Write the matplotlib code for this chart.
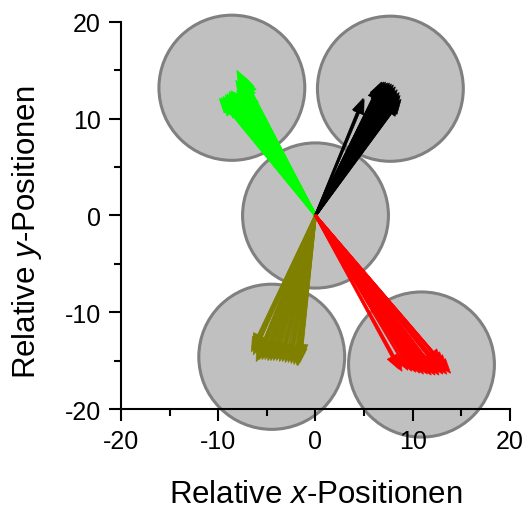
import numpy as np
import matplotlib
matplotlib.use('Agg')
import matplotlib.pyplot as plt
from matplotlib.patches import Circle

plt.rcParams['font.family'] = 'Liberation Sans'
plt.rcParams['mathtext.fontset'] = 'custom'
plt.rcParams['mathtext.rm'] = 'Liberation Sans'
plt.rcParams['mathtext.it'] = 'Liberation Sans:italic'
plt.rcParams['axes.unicode_minus'] = False

# circle centres (relative positions) and radius
circle_x = [0.0, -8.6, 7.7, -4.5, 10.9]
circle_y = [0.0, 13.2, 13.1, -14.6, -15.4]
circle_r = 7.5

# arrow end points per group
green_x = [-8.1, -7.9, -7.7, -7.5, -7.3, -8.0, -7.6, -7.8, -8.2, -7.4,
           -9.9, -9.7, -9.5, -9.3, -9.1, -8.9, -8.7, -8.5, -8.3, -8.1, -7.9, -7.7, -7.5, -7.3, -7.1,
           -9.6, -9.2, -8.8, -8.4, -8.0, -7.6, -7.0, -9.0, -8.6]
green_y = [15.0, 14.8, 14.6, 14.4, 14.1, 14.5, 14.0, 14.2, 14.0, 13.7,
           12.1, 12.2, 12.3, 12.5, 12.6, 12.8, 12.9, 12.8, 12.7, 12.9, 13.0, 12.9, 12.9, 12.8, 12.8,
           11.8, 11.9, 12.2, 12.3, 12.4, 12.5, 12.3, 11.6, 11.9]

black_x = [6.8, 7.0, 7.2, 7.4, 7.6, 7.8, 8.0, 8.2, 8.4, 8.6, 8.7,
           7.0, 7.3, 7.6, 7.9, 8.2, 8.5, 7.1, 7.5, 6.9, 6.6, 8.8, 8.6, 8.1, 7.7,
           4.9, 5.0]
black_y = [13.8, 13.8, 13.8, 13.7, 13.7, 13.6, 13.5, 13.3, 13.0, 12.7, 12.4,
           13.4, 13.3, 13.2, 13.0, 12.8, 12.2, 13.0, 12.8, 13.2, 13.5, 12.0, 11.8, 12.3, 12.5,
           12.1, 12.0]

olive_x = [-6.5, -6.6, -6.4, -6.1, -5.8, -5.5, -5.2, -4.9, -4.6, -4.3, -4.0, -3.7, -3.4, -3.1,
           -2.8, -2.5, -2.2, -1.9, -1.8, -5.9, -5.0, -4.2, -3.4, -2.6, -2.0, -6.2, -1.6, -1.5]
olive_y = [-13.7, -14.1, -14.4, -15.1, -14.9, -14.9, -14.9, -15.0, -15.0, -15.0, -15.0, -15.1, -15.1, -15.2,
           -15.2, -15.3, -15.4, -15.5, -15.5, -14.4, -14.5, -14.6, -14.7, -14.9, -15.0, -13.9, -15.2, -14.8]

red_x = [9.5, 9.9, 10.3, 10.7, 11.1, 11.5, 11.9, 12.3, 12.7, 13.1, 13.5, 13.9, 13.6, 13.3,
         10.5, 11.0, 11.6, 12.2, 12.8, 9.8, 10.2, 11.3, 12.5, 13.0,
         8.9, 8.6]
red_y = [-16.0, -16.1, -16.2, -16.3, -16.4, -16.4, -16.5, -16.5, -16.5, -16.4, -16.4, -16.3, -15.9, -15.6,
         -15.8, -15.9, -15.9, -16.0, -15.9, -15.6, -15.5, -15.6, -15.5, -15.3,
         -16.1, -15.9]

groups = [
    (green_x, green_y, '#00ff00'),
    (black_x, black_y, '#000000'),
    (olive_x, olive_y, '#808000'),
    (red_x, red_y, '#ff0000'),
]

fig = plt.figure(figsize=(5.25, 5.1), dpi=100)
ax = fig.add_axes([0.2305, 0.196, 0.7409, 0.759])

for cx, cy in zip(circle_x, circle_y):
    ax.add_patch(Circle((cx, cy), circle_r, facecolor='#c0c0c0', edgecolor='#808080',
                        linewidth=2.2, zorder=1, clip_on=False))

for xs, ys, col in groups:
    for ex, ey in zip(xs, ys):
        ax.arrow(0, 0, ex, ey, width=0.2, head_width=1.15, head_length=1.5,
                 length_includes_head=True, fc=col, ec=col, linewidth=0.5,
                 zorder=2, clip_on=False)

ax.set_xlim(-20, 20)
ax.set_ylim(-20, 20)
ax.set_xticks([-20, -10, 0, 10, 20])
ax.set_yticks([-20, -10, 0, 10, 20])
ax.set_xticks([-15, -5, 5, 15], minor=True)
ax.set_yticks([-15, -5, 5, 15], minor=True)
ax.tick_params(which='major', length=8.5, width=1.5, labelsize=18, pad=6)
ax.tick_params(which='minor', length=5, width=1.5)

ax.spines['top'].set_visible(False)
ax.spines['right'].set_visible(False)
ax.spines['left'].set_linewidth(1.5)
ax.spines['bottom'].set_linewidth(1.5)
ax.spines['left'].set_zorder(3)
ax.spines['bottom'].set_zorder(3)

ax.set_xlabel(r'Relative $\mathit{x}$-Positionen', fontsize=22.5)
ax.set_ylabel(r'Relative $\mathit{y}$-Positionen', fontsize=22.5)
ax.xaxis.set_label_coords(0.5, -0.181)
ax.yaxis.set_label_coords(-0.198, 0.46)

fig.savefig('out.png', dpi=100)
